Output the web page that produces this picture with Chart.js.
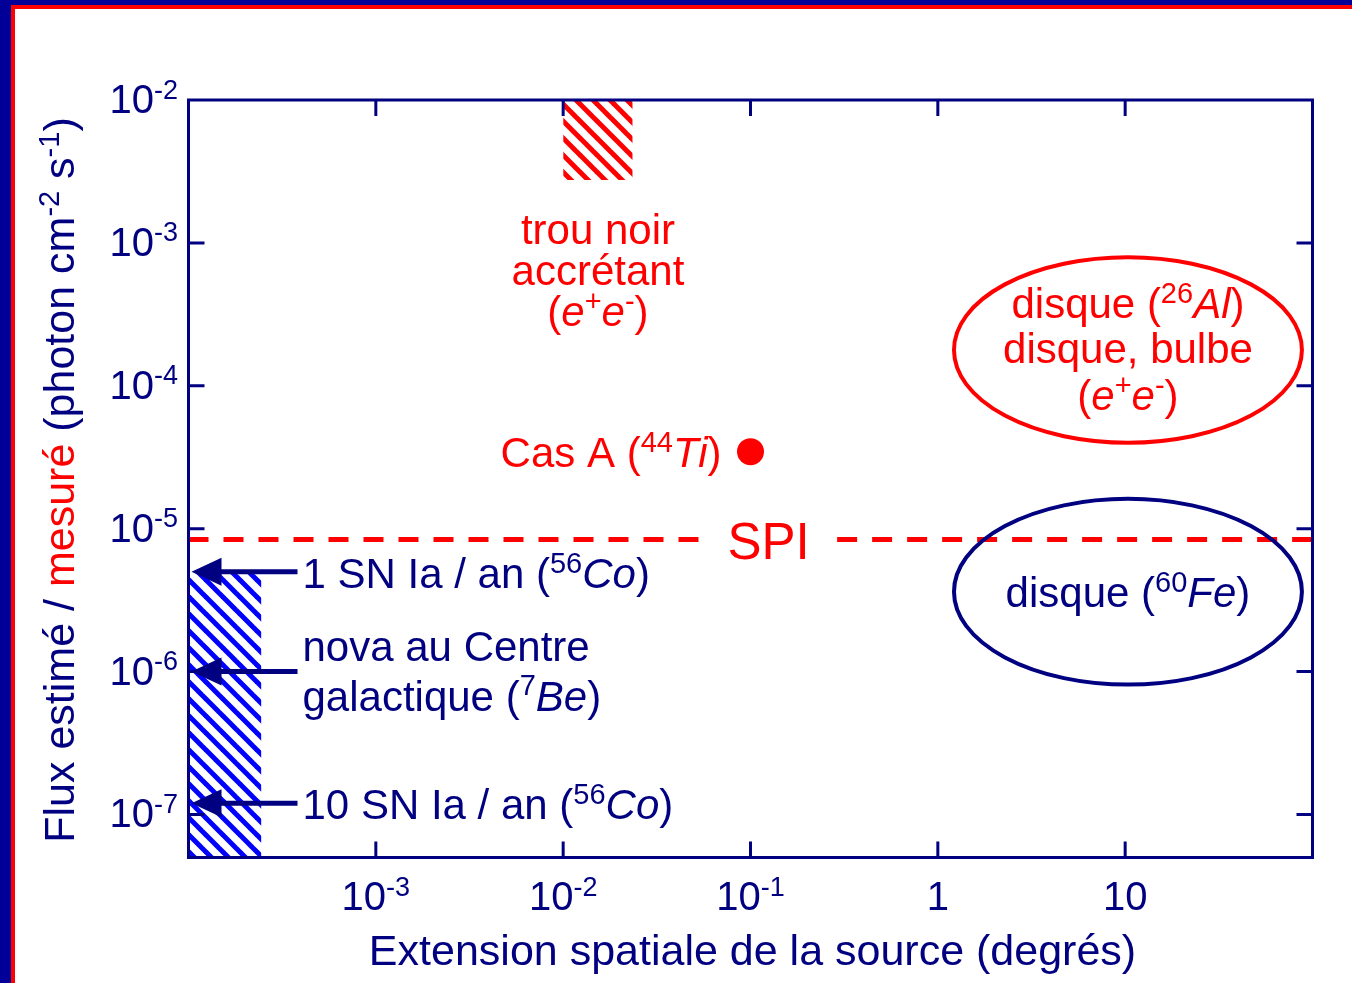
<!DOCTYPE html>
<html><head><meta charset="utf-8">
<script src="https://cdn.jsdelivr.net/npm/chart.js@4/dist/chart.umd.min.js"></script>
<style>html,body{margin:0;padding:0;background:#fff;overflow:hidden}canvas{display:block}</style>
</head><body><canvas id="c" width="1352" height="983"></canvas>
<script>
// Axis ranges (degrees, photon cm^-2 s^-1)
const xRange = [1e-4, 1e2];
const yRange = [5e-8, 1e-2];
const xTicks = [1e-3, 1e-2, 1e-1, 1, 10];
const xTickLabels = [['10', '-3'], ['10', '-2'], ['10', '-1'], ['1', ''], ['10', '']];
const yTicks = [1e-2, 1e-3, 1e-4, 1e-5, 1e-6, 1e-7];
const yTickLabels = [['10', '-2'], ['10', '-3'], ['10', '-4'], ['10', '-5'], ['10', '-6'], ['10', '-7']];

// Hatched zones: [extension from, extension to, flux edge]
const pointSourceZone = [1e-4, 2.45e-4, 5e-6];      // filled down to the axis floor
const blackHoleZone = [1e-2, 2.35e-2, 2.75e-3];     // filled up to the axis ceiling
// Cas A (44Ti): [extension, flux]
const casA = [0.1, 3.46e-5];
// SPI sensitivity level and the span left open for its label
const spiFlux = 8.4e-6;
const spiBreak = [0.0624, 0.29];
// Diffuse emissions: [extension min, extension max, flux min, flux max]
const al26Zone = [1.19, 90, 3.87e-5, 8.2e-4];
const fe60Zone = [1.19, 90, 7.85e-7, 1.67e-5];
// Estimated fluxes pointed at by arrows
const sn1Flux = 5e-6;
const novaFlux = 1e-6;
const sn10Flux = 1.2e-7;

const NAVY = '#000080';
const RED = '#ff0000';
const FONT = '"Liberation Sans", Arial, Helvetica, sans-serif';

function hatch(color) {
  const s = 17;
  const c = document.createElement('canvas');
  c.width = s; c.height = s;
  const g = c.getContext('2d');
  g.strokeStyle = color;
  g.lineWidth = 5;
  g.lineCap = 'square';
  for (const o of [-s, 0, s]) {
    g.beginPath();
    g.moveTo(o, 0);
    g.lineTo(o + s, s);
    g.stroke();
  }
  return g.createPattern(c, 'repeat');
}

// Text made of runs: [text, style, colour]; style may contain 's' (superscript) and 'i' (italic)
const SUP = 0.68;
function runFont(size, style) {
  const sz = style.includes('s') ? Math.round(size * SUP) : size;
  return (style.includes('i') ? 'italic ' : '') + sz + 'px ' + FONT;
}
function richWidth(ctx, runs, size) {
  let w = 0;
  for (const [t, st] of runs) { ctx.font = runFont(size, st || ''); w += ctx.measureText(t).width; }
  return w;
}
function drawRich(ctx, runs, x, y, size, align, color) {
  const w = richWidth(ctx, runs, size);
  let cx = align === 'center' ? x - w / 2 : align === 'right' ? x - w : x;
  ctx.textBaseline = 'alphabetic';
  ctx.textAlign = 'left';
  for (const [t, st, col] of runs) {
    const s = st || '';
    ctx.font = runFont(size, s);
    ctx.fillStyle = col || color;
    ctx.fillText(t, cx, s.includes('s') ? y - size * 0.36 : y);
    cx += ctx.measureText(t).width;
  }
}

const ee = [['(', ''], ['e', 'i'], ['+', 's'], ['e', 'i'], ['-', 's'], [')', '']];

const decorPlugin = {
  id: 'decor',
  beforeDraw(chart) {
    const ctx = chart.ctx;
    ctx.save();
    ctx.fillStyle = '#fff';
    ctx.fillRect(0, 0, chart.width, chart.height);
    ctx.restore();
  },
  afterDatasetsDraw(chart) {
    const ctx = chart.ctx;
    const xs = chart.scales.x, ys = chart.scales.y;
    const a = chart.chartArea;
    const px = v => xs.getPixelForValue(v);
    const py = v => ys.getPixelForValue(v);
    ctx.save();

    // page frame
    ctx.fillStyle = '#000099';
    ctx.fillRect(0, 0, chart.width, 5);
    ctx.fillRect(0, 0, 11, chart.height);
    ctx.fillStyle = RED;
    ctx.fillRect(11, 5, chart.width - 11, 4);
    ctx.fillRect(11, 5, 4, chart.height - 5);

    // axis box and inward ticks
    ctx.strokeStyle = NAVY;
    ctx.lineWidth = 3;
    ctx.strokeRect(a.left, a.top, a.right - a.left, a.bottom - a.top);
    const tl = 16;
    ctx.beginPath();
    for (const v of xTicks) {
      const x = px(v);
      ctx.moveTo(x, a.bottom); ctx.lineTo(x, a.bottom - tl);
      ctx.moveTo(x, a.top); ctx.lineTo(x, a.top + tl);
    }
    for (const v of yTicks) {
      const y = py(v);
      if (y < a.top + 3) continue;
      ctx.moveTo(a.left, y); ctx.lineTo(a.left + tl, y);
      ctx.moveTo(a.right, y); ctx.lineTo(a.right - tl, y);
    }
    ctx.stroke();

    // tick labels
    xTicks.forEach((v, i) => {
      const [b, e] = xTickLabels[i];
      drawRich(ctx, [[b, ''], [e, 's']], px(v), 910, 40, 'center', NAVY);
    });
    yTicks.forEach((v, i) => {
      const [b, e] = yTickLabels[i];
      drawRich(ctx, [[b, ''], [e, 's']], 178, py(v) + 13, 40, 'right', NAVY);
    });

    // axis titles
    drawRich(ctx, [['Extension spatiale de la source (degrés)', '']], (a.left + a.right) / 2 + 2, 965, 43, 'center', NAVY);
    ctx.save();
    ctx.translate(74, 480);
    ctx.rotate(-Math.PI / 2);
    drawRich(ctx, [['Flux estimé / ', ''], ['mesuré', '', RED], [' (photon cm', ''], ['-2', 's'], [' s', ''], ['-1', 's'], [')', '']], 0, 0, 43, 'center', NAVY);
    ctx.restore();

    // diffuse emission ellipses
    function ellipse(z, col) {
      const x0 = px(z[0]), x1 = px(z[1]), y0 = py(z[3]), y1 = py(z[2]);
      ctx.beginPath();
      ctx.ellipse((x0 + x1) / 2, (y0 + y1) / 2, (x1 - x0) / 2 - 2, (y1 - y0) / 2 - 2, 0, 0, Math.PI * 2);
      ctx.strokeStyle = col;
      ctx.lineWidth = 4;
      ctx.stroke();
      return [(x0 + x1) / 2, (y0 + y1) / 2];
    }
    const [axc, ayc] = ellipse(al26Zone, RED);
    const [fxc, fyc] = ellipse(fe60Zone, NAVY);
    drawRich(ctx, [['disque (', ''], ['26', 's'], ['Al', 'i'], [')', '']], axc, ayc - 32, 42, 'center', RED);
    drawRich(ctx, [['disque, bulbe', '']], axc, ayc + 13, 42, 'center', RED);
    drawRich(ctx, ee, axc, ayc + 60, 42, 'center', RED);
    drawRich(ctx, [['disque (', ''], ['60', 's'], ['Fe', 'i'], [')', '']], fxc, fyc + 15, 42, 'center', NAVY);

    // accreting black hole label
    const bhx = (px(blackHoleZone[0]) + px(blackHoleZone[1])) / 2;
    const bhy = py(blackHoleZone[2]);
    drawRich(ctx, [['trou noir', '']], bhx, bhy + 64, 42, 'center', RED);
    drawRich(ctx, [['accrétant', '']], bhx, bhy + 105, 42, 'center', RED);
    drawRich(ctx, ee, bhx, bhy + 146, 42, 'center', RED);

    // Cas A label
    drawRich(ctx, [['Cas A (', ''], ['44', 's'], ['Ti', 'i'], [')', '']], px(casA[0]) - 29, py(casA[1]) + 15, 42, 'right', RED);

    // SPI label
    drawRich(ctx, [['SPI', '']], (px(spiBreak[0]) + px(spiBreak[1])) / 2 - 6, py(spiFlux) + 19, 51, 'center', RED);

    // arrows to the point-source estimates
    const tipX = a.left + 3, tailX = a.left + 109;
    function arrow(y) {
      ctx.strokeStyle = NAVY;
      ctx.fillStyle = NAVY;
      ctx.lineWidth = 5;
      ctx.beginPath();
      ctx.moveTo(tailX, y); ctx.lineTo(tipX + 20, y);
      ctx.stroke();
      ctx.beginPath();
      ctx.moveTo(tipX, y);
      ctx.lineTo(tipX + 30, y - 14);
      ctx.lineTo(tipX + 30, y + 14);
      ctx.closePath();
      ctx.fill();
    }
    [sn1Flux, novaFlux, sn10Flux].forEach(f => arrow(py(f)));
    const lx = a.left + 114;
    drawRich(ctx, [['1 SN Ia / an (', ''], ['56', 's'], ['Co', 'i'], [')', '']], lx, py(sn1Flux) + 16, 42, 'left', NAVY);
    drawRich(ctx, [['nova au Centre', '']], lx, py(novaFlux) - 11, 42, 'left', NAVY);
    drawRich(ctx, [['galactique (', ''], ['7', 's'], ['Be', 'i'], [')', '']], lx, py(novaFlux) + 39, 42, 'left', NAVY);
    drawRich(ctx, [['10 SN Ia / an (', ''], ['56', 's'], ['Co', 'i'], [')', '']], lx, py(sn10Flux) + 16, 42, 'left', NAVY);

    ctx.restore();
  }
};

const pt = (x, y) => ({ x, y });

new Chart(document.getElementById('c'), {
  type: 'line',
  data: {
    datasets: [
      {
        data: [pt(pointSourceZone[0], pointSourceZone[2]), pt(pointSourceZone[1], pointSourceZone[2])],
        fill: 'start', backgroundColor: hatch('#0000ff'), borderWidth: 0, pointRadius: 0
      },
      {
        data: [pt(blackHoleZone[0], blackHoleZone[2]), pt(blackHoleZone[1], blackHoleZone[2])],
        fill: 'end', backgroundColor: hatch(RED), borderWidth: 0, pointRadius: 0
      },
      {
        data: [pt(xRange[0], spiFlux), pt(spiBreak[0], spiFlux)],
        borderColor: RED, borderWidth: 5, borderDash: [20, 15], borderCapStyle: 'butt', pointRadius: 0, fill: false
      },
      {
        data: [pt(spiBreak[1], spiFlux), pt(xRange[1], spiFlux)],
        borderColor: RED, borderWidth: 5, borderDash: [20, 15], borderCapStyle: 'butt', pointRadius: 0, fill: false
      },
      {
        data: [pt(casA[0], casA[1])],
        showLine: false, pointRadius: 13.5, pointBackgroundColor: RED, pointBorderWidth: 0, borderColor: RED
      }
    ]
  },
  options: {
    responsive: false,
    animation: false,
    events: [],
    layout: { padding: { left: 188.5, right: 1352 - 1312.5, top: 100, bottom: 983 - 857.5 } },
    plugins: { legend: { display: false }, tooltip: { enabled: false } },
    scales: {
      x: { type: 'logarithmic', min: xRange[0], max: xRange[1], display: false },
      y: { type: 'logarithmic', min: yRange[0], max: yRange[1], display: false }
    }
  },
  plugins: [decorPlugin]
});
</script>
</body></html>
